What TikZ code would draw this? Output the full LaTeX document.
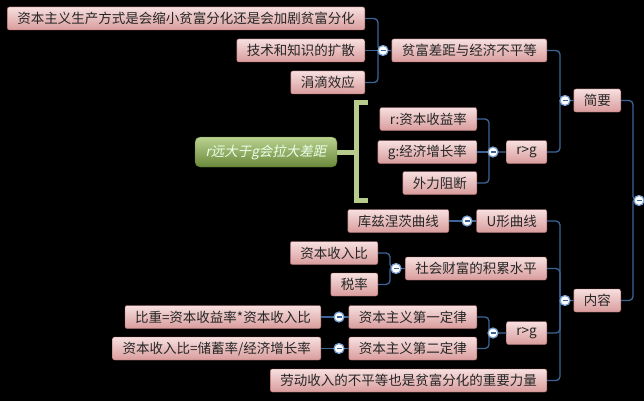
\documentclass[tikz,border=0pt]{standalone}
\usepackage{fontspec}
\setmainfont{Noto Sans CJK SC}
\newfontfamily\slantfont[FakeSlant=0.2]{Noto Sans CJK SC}
\definecolor{boxtop}{HTML}{F7DFDF}
\definecolor{boxbot}{HTML}{D99C9C}
\definecolor{boxline}{HTML}{A86464}
\definecolor{linkblue}{HTML}{3D6496}
\definecolor{knobline}{HTML}{7AA0D2}
\definecolor{leaftop}{HTML}{BBD291}
\definecolor{leafbot}{HTML}{6A893A}
\definecolor{bracegreen}{HTML}{B6CB8C}

\begin{document}
\begin{tikzpicture}[x=1pt,y=-1pt,
    box/.style={draw=boxline, top color=boxtop, bottom color=boxbot, rounded corners=2pt,
      minimum height=23pt, inner xsep=10pt, inner ysep=0pt, text=black!85,
      font=\fontsize{13.5}{16}\selectfont, anchor=east},
    leaf/.style={draw=leafbot!80!black, top color=leaftop, bottom color=leafbot, rounded corners=5pt,
      minimum height=30pt, minimum width=142pt, text=white!92!green,
      font=\slantfont\fontsize{13.5}{16}\selectfont},
    link/.style={draw=linkblue, line width=1.3pt, rounded corners=4pt},
    brace/.style={draw=bracegreen, line width=5pt},
    knob/.style={circle, draw=knobline, fill=white, line width=1.2pt, minimum size=10pt, inner sep=0pt,
      path picture={\draw[linkblue, line width=1.2pt] ([xshift=2.5pt]path picture bounding box.west) -- ([xshift=-2.5pt]path picture bounding box.east);}}]

    \useasboundingbox (0,0) rectangle (644,401);
    \fill[black] (0,0) rectangle (644,401);

    % upper half
    \node[box] (a) at (365,18.5) {资本主义生产方式是会缩小贫富分化还是会加剧贫富分化};
    \node[box] (b) at (365,50.5) {技术和知识的扩散};
    \node[box] (c) at (365,82.5) {涓滴效应};
    \node[box] (d) at (547,50.5) {贫富差距与经济不平等};
    \node[box] (e) at (621,100.5) {简要};
    \node[box] (f) at (477,119) {r:资本收益率};
    \node[box] (g) at (477,152) {g:经济增长率};
    \node[box] (h) at (477,183) {外力阻断};
    \node[box] (i) at (547,152) {r>g};
    \node[leaf] (j) at (266,152) {r远大于g会拉大差距};

    % lower half
    \node[box] (k) at (449,221) {库兹涅茨曲线};
    \node[box] (l) at (547,221) {U形曲线};
    \node[box] (m) at (378,253) {资本收入比};
    \node[box] (n) at (378,284.5) {税率};
    \node[box] (o) at (547,268.5) {社会财富的积累水平};
    \node[box] (p) at (321,317) {比重=资本收益率*资本收入比};
    \node[box] (q) at (321,348.5) {资本收入比=储蓄率/经济增长率};
    \node[box] (r) at (477,317) {资本主义第一定律};
    \node[box] (s) at (477,348.5) {资本主义第二定律};
    \node[box] (t) at (547,333) {r>g};
    \node[box] (u) at (547,380.5) {劳动收入的不平等也是贫富分化的重要力量};
    \node[box] (v) at (621,300.5) {内容};

    \coordinate (dj) at (378,50.5);
    \coordinate (ej) at (560,100.5);
    \coordinate (ij) at (489,152);
    \coordinate (oj) at (390,268.5);
    \coordinate (tj) at (489,333);
    \coordinate (vj) at (560,300.5);
    \coordinate (rj) at (633,200.5);
    \coordinate (root) at (650,200.5);
    \coordinate (bt) at (368,102.5);
    \coordinate (bm) at (356,152);
    \coordinate (bb) at (368,200);

    \draw[link] (a.east) -| (dj) -- (d.west);
    \draw[link] (b.east) -- (dj);
    \draw[link] (c.east) -| (dj);
    \draw[link] (d.east) -| (ej) -- (e.west);
    \draw[link] (i.east) -| (ej);
    \draw[link] (f.east) -| (ij) -- (i.west);
    \draw[link] (g.east) -- (ij);
    \draw[link] (h.east) -| (ij);
    \draw[link] (e.east) -| (rj) -- (root);
    \draw[link] (v.east) -| (rj);
    \draw[link] (k.east) -- (l.west);
    \draw[link] (l.east) -| (vj) -- (v.west);
    \draw[link] (o.east) -| (vj);
    \draw[link] (t.east) -| (vj);
    \draw[link] (u.east) -| (vj);
    \draw[link] (m.east) -| (oj) -- (o.west);
    \draw[link] (n.east) -| (oj);
    \draw[link] (p.east) -- (r.west);
    \draw[link] (q.east) -- (s.west);
    \draw[link] (r.east) -| (tj) -- (t.west);
    \draw[link] (s.east) -| (tj);

    \draw[brace] (bt) -| (bm) |- (bb);
    \draw[brace] (j.east) -- (bm);

    \node[knob] (d0) at (383,50.5) {};
    \node[knob] (e0) at (565,100.5) {};
    \node[knob] (i0) at (493,152) {};
    \node[knob] (l0) at (467,221) {};
    \node[knob] (o0) at (396,268.5) {};
    \node[knob] (r0) at (339,317) {};
    \node[knob] (s0) at (339,348.5) {};
    \node[knob] (t0) at (493,333) {};
    \node[knob] (v0) at (565,300.5) {};
    \node[knob] (root0) at (639,200.5) {};
\end{tikzpicture}
\end{document}
